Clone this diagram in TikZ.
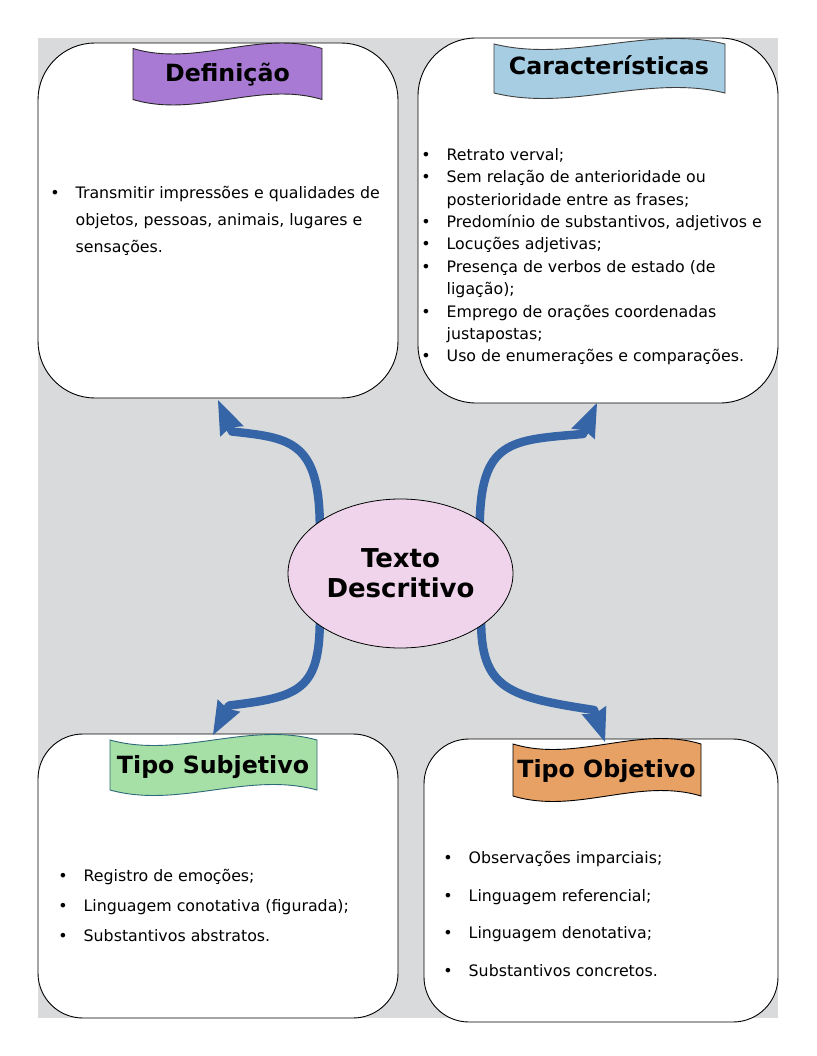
\documentclass[tikz,border=0pt]{standalone}
\usepackage{fontspec}
\setmainfont{DejaVu Sans}
\usetikzlibrary{calc,shapes.geometric}
\definecolor{bggray}{RGB}{217,218,219}
\definecolor{purp}{RGB}{168,122,212}
\definecolor{lblue}{RGB}{166,205,226}
\definecolor{lgreen}{RGB}{166,224,166}
\definecolor{orng}{RGB}{232,161,100}
\definecolor{pinkf}{RGB}{240,212,236}
\definecolor{arrblue}{RGB}{53,101,166}
\definecolor{tealedge}{RGB}{45,105,120}
\newcommand\wbanner[6]{%
 \pgfmathsetmacro\wa{#3+(#5-#3)/3}%
 \pgfmathsetmacro\wb{#3+2*(#5-#3)/3}%
 \filldraw[fill=#1,draw=#2,line width=0.9pt] (#3,#4) .. controls (\wa,#4+19) and (\wb,#4-19) .. (#5,#4) -- (#5,#6) .. controls (\wb,#6-19) and (\wa,#6+19) .. (#3,#6) -- cycle;}
\newcommand\bul{\llap{•\hspace{16pt}}}
\pgfdeclarelayer{front}
\pgfsetlayers{main,front}
\begin{document}
\begin{tikzpicture}[x=1pt,y=-1pt,
  box/.style={draw=black,line width=0.9pt,fill=white,rectangle,inner sep=0pt,outer sep=0pt},
  title/.style={font=\fontsize{23.7}{28}\selectfont\bfseries,inner sep=0pt,anchor=base},
  item/.style={font=\fontsize{15.8}{19}\selectfont,inner sep=0pt,anchor=base west},
  shaft/.style={draw=arrblue,line width=8.5pt,line join=round,line cap=round},
  head/.style={fill=arrblue}]
\useasboundingbox (0,0) rectangle (816,1056);
\fill[white] (0,0) rectangle (816,1056);
\fill[bggray] (38,38) rectangle (778,1018);
% boxes
\node[box,minimum width=360pt,minimum height=355pt,rounded corners=57pt] (bdef) at (218,220.5) {};
\node[box,minimum width=360pt,minimum height=365pt,rounded corners=58pt] (bcar) at (598,220.5) {};
\node[box,minimum width=360pt,minimum height=284pt,rounded corners=45pt] (bsub) at (218,876) {};
\node[box,minimum width=354pt,minimum height=283pt,rounded corners=45pt] (bobj) at (601,880.5) {};
% banners
\wbanner{purp}{black!85}{133}{48.5}{322}{99.5}
\wbanner{lblue}{black!75}{494}{44}{725}{93}
\wbanner{lgreen}{tealedge}{110}{740}{317}{790}
\wbanner{orng}{black}{513}{744}{701}{796}
\node[title] (tdef) at (227.5,82) {Definição};
\node[title] (tcar) at (609,75) {Características};
\node[title] (tsub) at (213,773) {Tipo Subjetivo};
\node[title] (tobj) at (606.5,777) {Tipo Objetivo};
% Definicao items
\node[item] (d1) at (75.5,199) {\bul Transmitir impressões e qualidades de};
\node[item] (d2) at (75.5,226) {objetos, pessoas, animais, lugares e};
\node[item] (d3) at (75.5,253) {sensações.};
% Caracteristicas items
\node[item] (c1) at (446.5,160.7) {\bul Retrato verval;};
\node[item] (c2) at (446.5,183) {\bul Sem relação de anterioridade ou};
\node[item] (c3) at (446.5,205.4) {posterioridade entre as frases;};
\node[item] (c4) at (446.5,227.7) {\bul Predomínio de substantivos, adjetivos e};
\node[item] (c5) at (446.5,250) {\bul Locuções adjetivas;};
\node[item] (c6) at (446.5,272.4) {\bul Presença de verbos de estado (de};
\node[item] (c7) at (446.5,294.7) {ligação);};
\node[item] (c8) at (446.5,317) {\bul Emprego de orações coordenadas};
\node[item] (c9) at (446.5,339.4) {justapostas;};
\node[item] (c10) at (446.5,361.7) {\bul Uso de enumerações e comparações.};
% Subjetivo items
\node[item] (s1) at (83.5,881.7) {\bul Registro de emoções;};
\node[item] (s2) at (83.5,911.7) {\bul Linguagem conotativa (figurada);};
\node[item] (s3) at (83.5,941.7) {\bul Substantivos abstratos.};
% Objetivo items
\node[item] (o1) at (468.5,863.5) {\bul Observações imparciais;};
\node[item] (o2) at (468.5,901) {\bul Linguagem referencial;};
\node[item] (o3) at (468.5,938.5) {\bul Linguagem denotativa;};
\node[item] (o4) at (468.5,976) {\bul Substantivos concretos.};
% center ellipse (front layer)
\begin{pgfonlayer}{front}
\node[ellipse,draw=black,line width=0.8pt,fill=pinkf,minimum width=225pt,minimum height=149pt,inner sep=0pt,align=center,font=\fontsize{26}{30}\selectfont\bfseries] (ell) at (400.5,573.5) {Texto\\Descritivo};
\end{pgfonlayer}
% arrow coordinates
\coordinate (tl) at (218,400); \coordinate (hbtl) at (232,431.5);
\coordinate (tr) at (597,403); \coordinate (hbtr) at (583,434);
\coordinate (bl) at (213,735); \coordinate (hbbl) at (229,705.5);
\coordinate (br) at (605,742); \coordinate (hbbr) at (594,710);
% shafts
\draw[shaft] ([yshift=-8pt]ell.147) .. controls (320,440) and (290,438) .. (hbtl) -- ($(tl)!22pt!(hbtl)$);
\draw[shaft] ([yshift=-8pt]ell.34) .. controls (480,440) and (510,440) .. (hbtr) -- ($(tr)!22pt!(hbtr)$);
\draw[shaft] ([yshift=8pt]ell.213) .. controls (320,690) and (300,697) .. (hbbl) -- ($(bl)!22pt!(hbbl)$);
\draw[shaft] ([yshift=8pt]ell.327) .. controls (480,690) and (510,697) .. (hbbr) -- ($(br)!22pt!(hbbr)$);
% heads
\fill[head] (tl) -- ($(hbtl)!13pt!90:(tl)$) -- ($(tl)!30pt!(hbtl)$) -- ($(hbtl)!13pt!-90:(tl)$) -- cycle;
\fill[head] (tr) -- ($(hbtr)!13pt!90:(tr)$) -- ($(tr)!30pt!(hbtr)$) -- ($(hbtr)!13pt!-90:(tr)$) -- cycle;
\fill[head] (bl) -- ($(hbbl)!13pt!90:(bl)$) -- ($(bl)!30pt!(hbbl)$) -- ($(hbbl)!13pt!-90:(bl)$) -- cycle;
\fill[head] (br) -- ($(hbbr)!13pt!90:(br)$) -- ($(br)!30pt!(hbbr)$) -- ($(hbbr)!13pt!-90:(br)$) -- cycle;
\end{tikzpicture}
\end{document}
